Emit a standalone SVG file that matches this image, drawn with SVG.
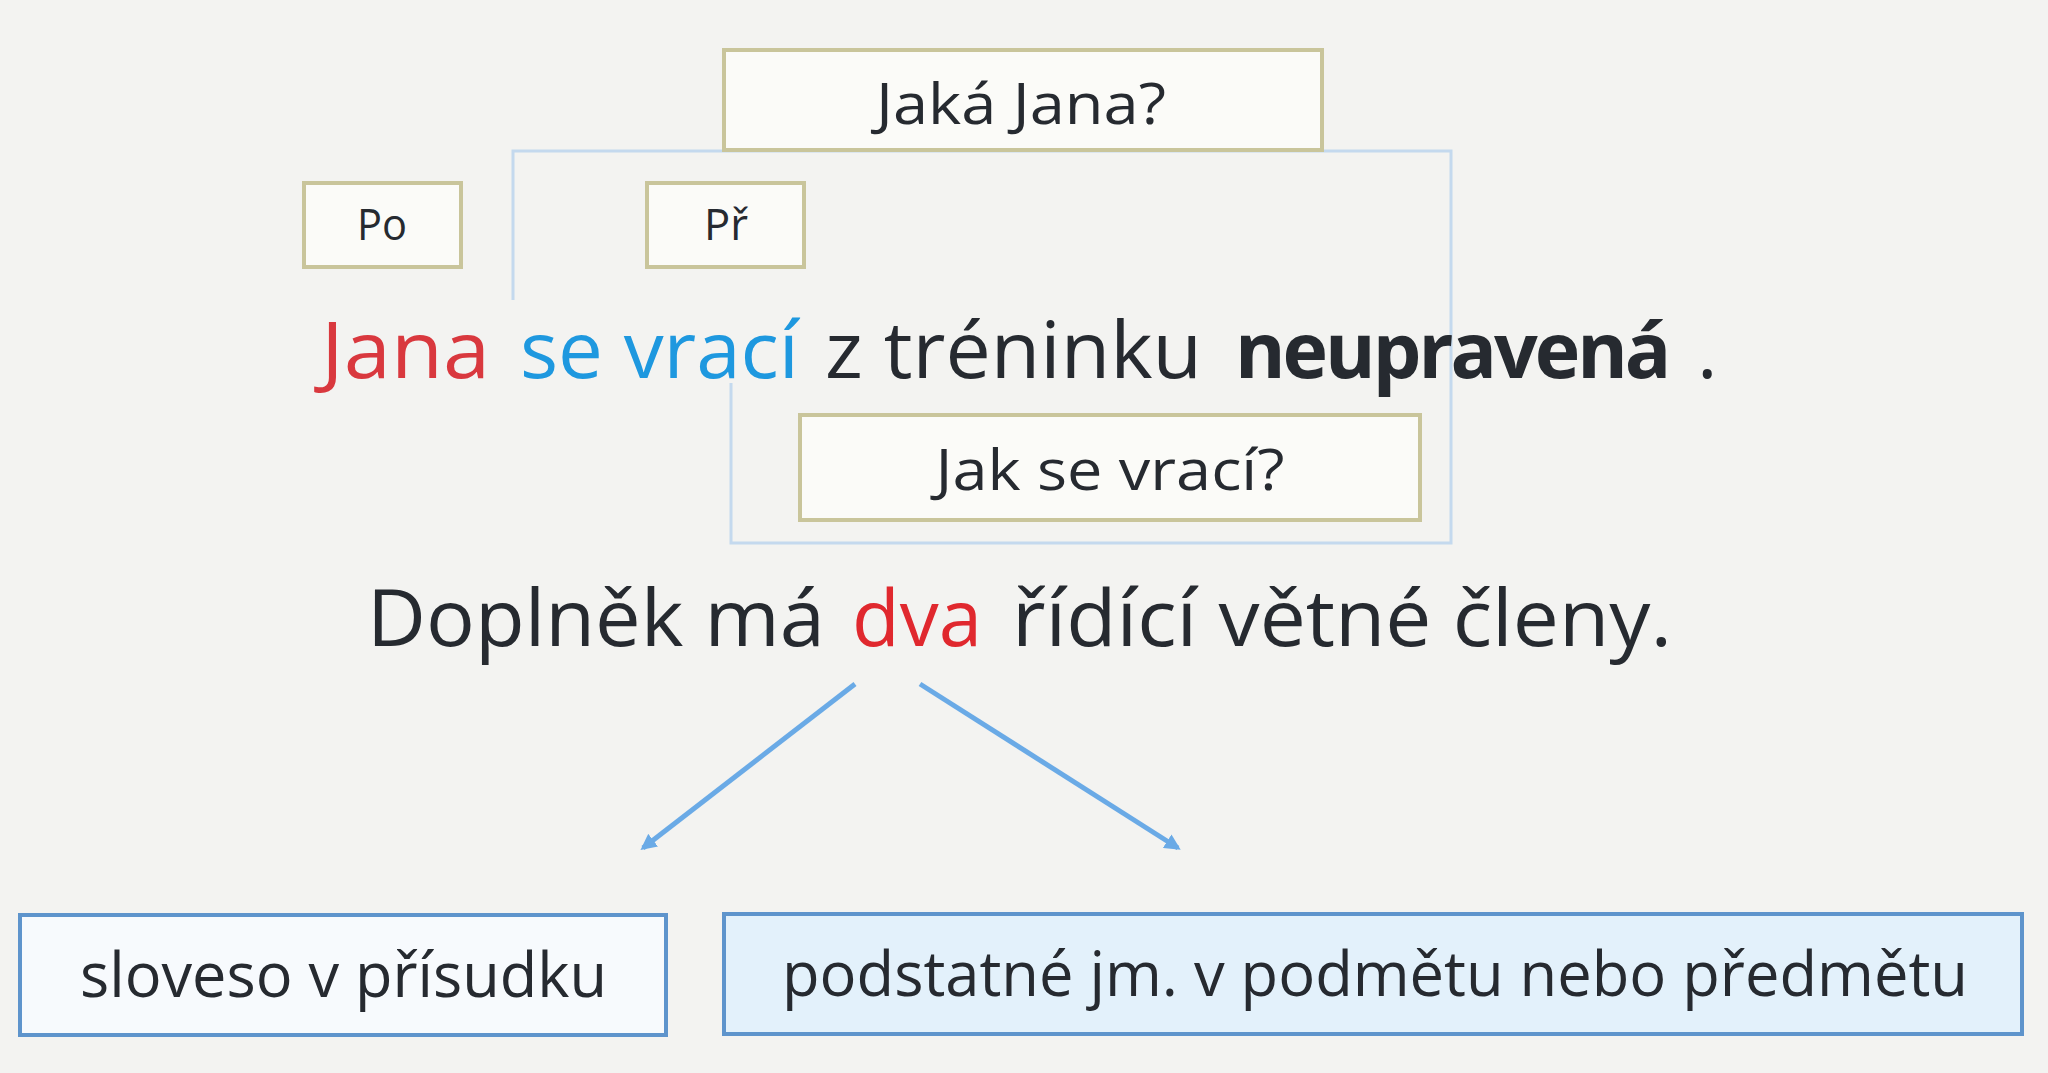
<svg xmlns="http://www.w3.org/2000/svg" width="2048" height="1073" viewBox="0 0 2048 1073">
<defs>
<marker id="ah" viewBox="0 0 10 10" refX="8" refY="5" markerWidth="3.2" markerHeight="3.2" orient="auto" markerUnits="strokeWidth">
<path d="M0,0 L10,5 L0,10 z" fill="#6aaae6"/>
</marker>
</defs>
<style>
.t{font-family:"Open Sans","Noto Sans","Liberation Sans",sans-serif;fill:#262a30}
.q{fill:#fbfbf8;stroke:#c9c59b;stroke-width:4}
.b{stroke:#5e94cc;stroke-width:4}
.c{stroke:#6aaae6;stroke-width:5;fill:none}
</style>
<rect x="0" y="0" width="2048" height="1073" fill="#f3f3f1"/>
<path id="frame" d="M513,300 V151 H1451 V543 H731 V383" fill="none" stroke="#c4d9ee" stroke-width="3"/>
<g id="n-jaka">
<rect class="q" x="724" y="50" width="598" height="100"/>
<text class="t" x="1021" y="124" font-size="56" text-anchor="middle" textLength="290" lengthAdjust="spacingAndGlyphs">Jaká Jana?</text>
</g>
<g id="n-po">
<rect class="q" x="304" y="183" width="157" height="84"/>
<text class="t" x="382" y="240" font-size="44" text-anchor="middle" textLength="50" lengthAdjust="spacingAndGlyphs">Po</text>
</g>
<g id="n-pr">
<rect class="q" x="647" y="183" width="157" height="84"/>
<text class="t" x="726" y="240" font-size="44" text-anchor="middle" textLength="44" lengthAdjust="spacingAndGlyphs">Př</text>
</g>
<g id="n-sentence">
<text class="t" x="321" y="378" font-size="78" style="fill:#d9383e" textLength="169" lengthAdjust="spacingAndGlyphs">Jana</text>
<text class="t" x="520" y="378" font-size="78" style="fill:#1e98df" textLength="279" lengthAdjust="spacingAndGlyphs">se vrací</text>
<text class="t" x="825" y="378" font-size="78" textLength="377" lengthAdjust="spacingAndGlyphs">z tréninku</text>
<text class="t" x="1235" y="378" font-size="77" font-weight="bold" letter-spacing="-3">neupravená</text>
<text class="t" x="1697" y="378" font-size="78">.</text>
</g>
<g id="n-jak">
<rect class="q" x="800" y="415" width="620" height="105"/>
<text class="t" x="1110" y="490" font-size="56" text-anchor="middle" textLength="349" lengthAdjust="spacingAndGlyphs">Jak se vrací?</text>
</g>
<g id="n-doplnek">
<text class="t" x="367" y="646" font-size="78" textLength="458" lengthAdjust="spacingAndGlyphs">Doplněk má</text>
<text class="t" x="852" y="646" font-size="78" style="fill:#e0282e" textLength="130" lengthAdjust="spacingAndGlyphs">dva</text>
<text class="t" x="1012" y="646" font-size="78" textLength="660" lengthAdjust="spacingAndGlyphs">řídící větné členy.</text>
</g>
<g id="connectors">
<line class="c" x1="855" y1="684" x2="643" y2="848" marker-end="url(#ah)"/>
<line class="c" x1="920" y1="684" x2="1178" y2="848" marker-end="url(#ah)"/>
</g>
<g id="n-sloveso">
<rect class="b" x="20" y="915" width="646" height="120" fill="#f7fafd"/>
<text class="t" x="80" y="997" font-size="62" textLength="527" lengthAdjust="spacingAndGlyphs">sloveso v přísudku</text>
</g>
<g id="n-podstatne">
<rect class="b" x="724" y="914" width="1298" height="120" fill="#e3f1fb"/>
<text class="t" x="782" y="996" font-size="62" textLength="1186" lengthAdjust="spacingAndGlyphs">podstatné jm. v podmětu nebo předmětu</text>
</g>
</svg>
